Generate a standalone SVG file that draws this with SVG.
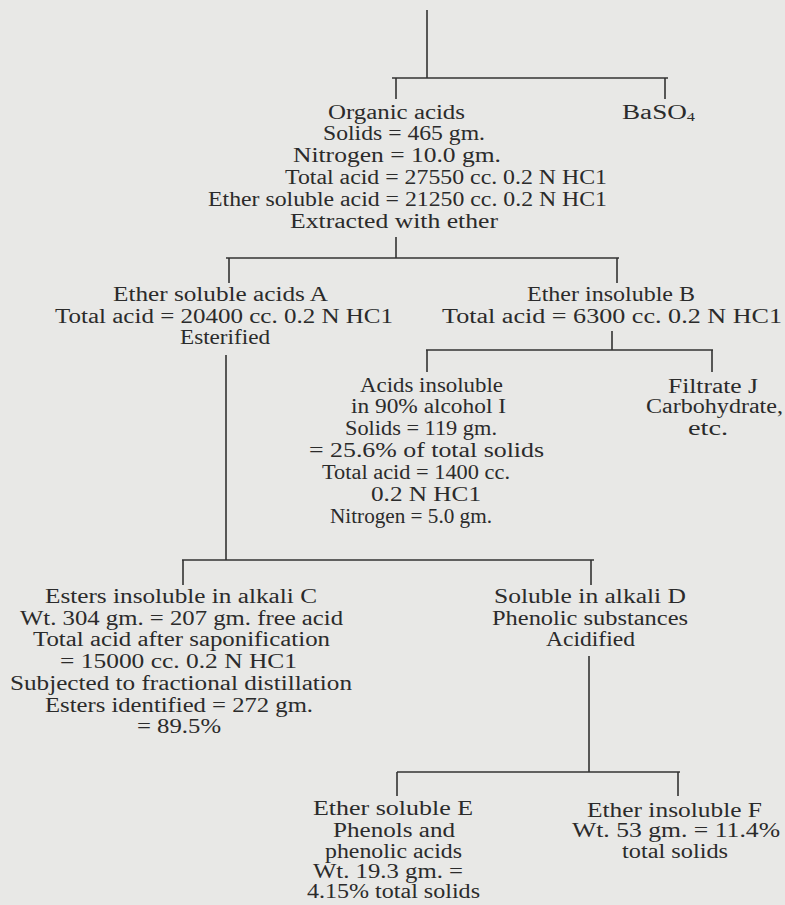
<svg xmlns="http://www.w3.org/2000/svg" width="785" height="905" viewBox="0 0 785 905">
<style>
text{font-family:"Liberation Serif","Times New Roman",serif;font-size:20px;fill:#2b2b2b}
.ln{stroke:#333;stroke-width:1.6;fill:none}
.sub{font-size:12px}
</style>
<rect width="785" height="905" fill="#e8e8e6"/>
<g id="connectors" class="ln">
<path d="M427,10V78M392,78H668M396,78V99M665,78V99"/>
<path d="M396,237V258M226,258H619M229,258V283M617,258V283"/>
<path d="M612,331V350M426,350H713M427,350V372M712,350V372"/>
<path d="M226,355V560M182,560H594M183,560V585M591,560V585"/>
<path d="M589,656V772M397,772H680M397,772V796M678,772V796"/>
</g>
<g id="organic-acids">
<text x="328" y="119" textLength="137" lengthAdjust="spacingAndGlyphs">Organic acids</text>
<text x="323" y="140" textLength="162" lengthAdjust="spacingAndGlyphs">Solids = 465 gm.</text>
<text x="293" y="162" textLength="208" lengthAdjust="spacingAndGlyphs">Nitrogen = 10.0 gm.</text>
<text x="285" y="184" textLength="322" lengthAdjust="spacingAndGlyphs">Total acid = 27550 cc. 0.2 N HC1</text>
<text x="208" y="206" textLength="399" lengthAdjust="spacingAndGlyphs">Ether soluble acid = 21250 cc. 0.2 N HC1</text>
<text x="290" y="228" textLength="208" lengthAdjust="spacingAndGlyphs">Extracted with ether</text>
</g>
<g id="baso4">
<text x="622" y="119" textLength="73" lengthAdjust="spacingAndGlyphs">BaSO<tspan class="sub" dy="2">4</tspan></text>
</g>
<g id="ether-soluble-A">
<text x="113" y="301" textLength="215" lengthAdjust="spacingAndGlyphs">Ether soluble acids A</text>
<text x="55" y="323" textLength="338" lengthAdjust="spacingAndGlyphs">Total acid = 20400 cc. 0.2 N HC1</text>
<text x="180" y="344" textLength="90" lengthAdjust="spacingAndGlyphs">Esterified</text>
</g>
<g id="ether-insoluble-B">
<text x="527" y="301" textLength="168" lengthAdjust="spacingAndGlyphs">Ether insoluble B</text>
<text x="442" y="323" textLength="340" lengthAdjust="spacingAndGlyphs">Total acid = 6300 cc. 0.2 N HC1</text>
</g>
<g id="acids-insoluble-I">
<text x="360" y="392" textLength="143" lengthAdjust="spacingAndGlyphs">Acids insoluble</text>
<text x="351" y="413" textLength="155" lengthAdjust="spacingAndGlyphs">in 90% alcohol I</text>
<text x="345" y="435" textLength="152" lengthAdjust="spacingAndGlyphs">Solids = 119 gm.</text>
<text x="309" y="457" textLength="235" lengthAdjust="spacingAndGlyphs">= 25.6% of total solids</text>
<text x="322" y="479" textLength="188" lengthAdjust="spacingAndGlyphs">Total acid = 1400 cc.</text>
<text x="371" y="501" textLength="110" lengthAdjust="spacingAndGlyphs">0.2 N HC1</text>
<text x="330" y="523" textLength="162" lengthAdjust="spacingAndGlyphs">Nitrogen = 5.0 gm.</text>
</g>
<g id="filtrate-J">
<text x="668" y="393" textLength="90" lengthAdjust="spacingAndGlyphs">Filtrate J</text>
<text x="646" y="413" textLength="137" lengthAdjust="spacingAndGlyphs">Carbohydrate,</text>
<text x="688" y="435" textLength="40" lengthAdjust="spacingAndGlyphs">etc.</text>
</g>
<g id="esters-C">
<text x="45" y="603" textLength="272" lengthAdjust="spacingAndGlyphs">Esters insoluble in alkali C</text>
<text x="20" y="625" textLength="323" lengthAdjust="spacingAndGlyphs">Wt. 304 gm. = 207 gm. free acid</text>
<text x="33" y="646" textLength="297" lengthAdjust="spacingAndGlyphs">Total acid after saponification</text>
<text x="60" y="668" textLength="237" lengthAdjust="spacingAndGlyphs">= 15000 cc. 0.2 N HC1</text>
<text x="10" y="690" textLength="342" lengthAdjust="spacingAndGlyphs">Subjected to fractional distillation</text>
<text x="45" y="712" textLength="268" lengthAdjust="spacingAndGlyphs">Esters identified = 272 gm.</text>
<text x="137" y="733" textLength="84" lengthAdjust="spacingAndGlyphs">= 89.5%</text>
</g>
<g id="soluble-D">
<text x="494" y="603" textLength="192" lengthAdjust="spacingAndGlyphs">Soluble in alkali D</text>
<text x="492" y="625" textLength="196" lengthAdjust="spacingAndGlyphs">Phenolic substances</text>
<text x="546" y="646" textLength="89" lengthAdjust="spacingAndGlyphs">Acidified</text>
</g>
<g id="ether-soluble-E">
<text x="313" y="815" textLength="160" lengthAdjust="spacingAndGlyphs">Ether soluble E</text>
<text x="333" y="837" textLength="122" lengthAdjust="spacingAndGlyphs">Phenols and</text>
<text x="325" y="858" textLength="137" lengthAdjust="spacingAndGlyphs">phenolic acids</text>
<text x="313" y="878" textLength="150" lengthAdjust="spacingAndGlyphs">Wt. 19.3 gm. =</text>
<text x="307" y="898" textLength="173" lengthAdjust="spacingAndGlyphs">4.15% total solids</text>
</g>
<g id="ether-insoluble-F">
<text x="587" y="817" textLength="175" lengthAdjust="spacingAndGlyphs">Ether insoluble F</text>
<text x="572" y="837" textLength="208" lengthAdjust="spacingAndGlyphs">Wt. 53 gm. = 11.4%</text>
<text x="622" y="858" textLength="106" lengthAdjust="spacingAndGlyphs">total solids</text>
</g>
</svg>
